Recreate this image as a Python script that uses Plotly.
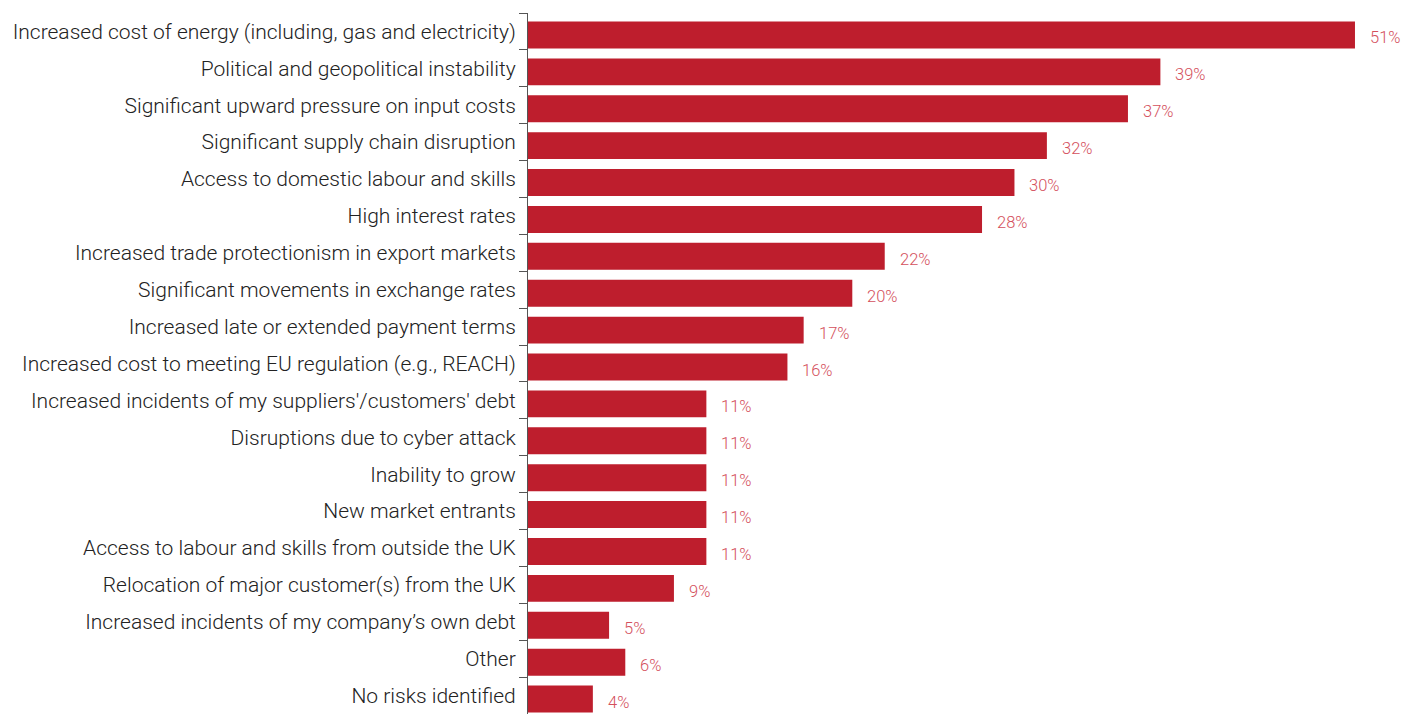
import plotly.graph_objects as go

categories = [
    "Increased cost of energy (including, gas and electricity)",
    "Political and geopolitical instability",
    "Significant upward pressure on input costs",
    "Significant supply chain disruption",
    "Access to domestic labour and skills",
    "High interest rates",
    "Increased trade protectionism in export markets",
    "Significant movements in exchange rates",
    "Increased late or extended payment terms",
    "Increased cost to meeting EU regulation (e.g., REACH)",
    "Increased incidents of my suppliers'/customers' debt",
    "Disruptions due to cyber attack",
    "Inability to grow",
    "New market entrants",
    "Access to labour and skills from outside the UK",
    "Relocation of major customer(s) from the UK",
    "Increased incidents of my company\u2019s own debt",
    "Other",
    "No risks identified",
]
values = [51, 39, 37, 32, 30, 28, 22, 20, 17, 16, 11, 11, 11, 11, 11, 9, 5, 6, 4]
value_labels = [f"{v}%" for v in values]

BAR_COLOR = "#be1e2d"
LABEL_COLOR = "#d4505c"

fig = go.Figure()
fig.add_trace(go.Bar(
    x=values,
    y=categories,
    orientation="h",
    marker=dict(color=BAR_COLOR, line=dict(width=0)),
    width=0.73,
    offset=-0.27,
    hoverinfo="skip",
))

for cat, v, lab in zip(categories, values, value_labels):
    fig.add_annotation(
        x=v, y=cat, text=lab, showarrow=False,
        xanchor="left", yanchor="middle",
        xshift=13, yshift=-6.5,
        font=dict(family="Roboto", size=16.5, color=LABEL_COLOR, weight=300),
    )

fig.update_layout(
    width=1408, height=708,
    margin=dict(l=520, r=8, t=5, b=2),
    paper_bgcolor="white", plot_bgcolor="white",
    showlegend=False,
    font=dict(family="Roboto", weight=300, color="#222222"),
    xaxis=dict(visible=False, range=[0, 54.27], fixedrange=True),
    yaxis=dict(
        autorange="reversed",
        tickson="boundaries",
        ticks="outside", ticklen=8, tickwidth=1, tickcolor="#555555",
        showline=True, linecolor="#555555", linewidth=1,
        showgrid=False, zeroline=False,
        ticklabelstandoff=7,
        tickfont=dict(family="Roboto", size=21, color="#222222", weight=300),
        automargin=False,
    ),
)

fig.write_html("out.html")
